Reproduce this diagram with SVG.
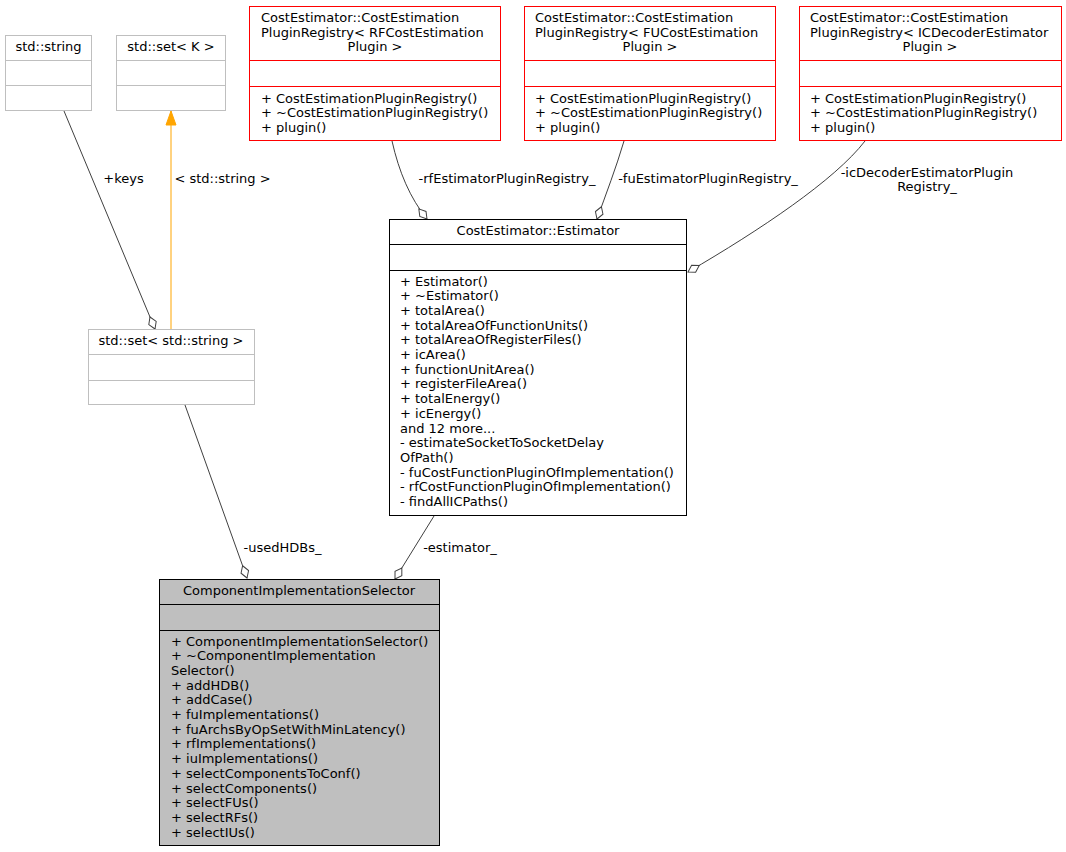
<svg xmlns="http://www.w3.org/2000/svg" width="1066" height="852" viewBox="0 0 1066 852">
<style>
text{font-family:"DejaVu Sans","Liberation Sans",sans-serif;font-size:13px;fill:#000}
.m{text-anchor:middle}
.gray rect,.gray line{stroke:#bfbfbf;fill:#fff}
.red rect,.red line{stroke:#ff0000;fill:#fff}
.blk rect,.blk line{stroke:#000;fill:#fff}
.sel rect{stroke:#000;fill:#bfbfbf}
.sel line{stroke:#000}
.e{fill:none;stroke:#404040;stroke-width:1}
.o{fill:none;stroke:#ffa500;stroke-width:1}
</style>
<defs>
<marker id="dia" viewBox="-14 -6 15 12" refX="0" refY="0" markerWidth="15" markerHeight="12" markerUnits="userSpaceOnUse" orient="auto">
<path d="M0,0 L-6.5,-4 L-13,0 L-6.5,4 Z" fill="#fff" stroke="#404040" stroke-width="1"/>
</marker>
<marker id="tri" viewBox="-15 -6 16 12" refX="0" refY="0" markerWidth="16" markerHeight="12" markerUnits="userSpaceOnUse" orient="auto">
<path d="M0,0 L-14,-5 L-14,5 Z" fill="#ffa500" stroke="#ffa500" stroke-width="1"/>
</marker>
</defs>
<rect width="1066" height="852" fill="#fff"/>
<g id="connectors">
<path class="e" d="M64,111 L155,329" marker-end="url(#dia)"/>
<text class="m" x="123.5" y="182.5">+keys</text>
<path class="o" d="M171,329 L171,111" marker-end="url(#tri)"/>
<text class="m" x="222.5" y="182.5">&lt; std::string &gt;</text>
<path class="e" d="M392,141 C399,172 410,198 427,219" marker-end="url(#dia)"/>
<text class="m" x="507" y="182.5">-rfEstimatorPluginRegistry_</text>
<path class="e" d="M624,141 C616,168 606,194 597,219" marker-end="url(#dia)"/>
<text class="m" x="708" y="182.5">-fuEstimatorPluginRegistry_</text>
<path class="e" d="M865,141 C835,180 760,230 688,272" marker-end="url(#dia)"/>
<text class="m" x="927" y="176.5">-icDecoderEstimatorPlugin</text>
<text class="m" x="927" y="191">Registry_</text>
<path class="e" d="M185,405 L247,578" marker-end="url(#dia)"/>
<text class="m" x="282.5" y="551.5">-usedHDBs_</text>
<path class="e" d="M434,516 L395,579" marker-end="url(#dia)"/>
<text class="m" x="460" y="551.5">-estimator_</text>
</g>
<g id="std_string" class="gray">
<rect x="5.5" y="35.5" width="86" height="75"/>
<line x1="5.5" y1="60.5" x2="91.5" y2="60.5"/>
<line x1="5.5" y1="85.5" x2="91.5" y2="85.5"/>
<text class="m" x="48.5" y="50.5">std::string</text>
</g>
<g id="std_set_K" class="gray">
<rect x="116.5" y="35.5" width="109" height="75"/>
<line x1="116.5" y1="60.5" x2="225.5" y2="60.5"/>
<line x1="116.5" y1="85.5" x2="225.5" y2="85.5"/>
<text class="m" x="171" y="50.5">std::set&lt; K &gt;</text>
</g>
<g id="rf_registry" class="red">
<rect x="249.5" y="6.5" width="251" height="134"/>
<line x1="249.5" y1="60.5" x2="500.5" y2="60.5"/>
<line x1="249.5" y1="86.5" x2="500.5" y2="86.5"/>
<text x="261" y="22">CostEstimator::CostEstimation</text>
<text x="261" y="36.7">PluginRegistry&lt; RFCostEstimation</text>
<text class="m" x="375" y="51.4">Plugin &gt;</text>
<text x="261" y="102.5">+ CostEstimationPluginRegistry()</text>
<text x="261" y="117">+ ~CostEstimationPluginRegistry()</text>
<text x="261" y="131.5">+ plugin()</text>
</g>
<g id="fu_registry" class="red">
<rect x="524.5" y="6.5" width="251" height="134"/>
<line x1="524.5" y1="60.5" x2="775.5" y2="60.5"/>
<line x1="524.5" y1="86.5" x2="775.5" y2="86.5"/>
<text x="535" y="22">CostEstimator::CostEstimation</text>
<text x="535" y="36.7">PluginRegistry&lt; FUCostEstimation</text>
<text class="m" x="650" y="51.4">Plugin &gt;</text>
<text x="535" y="102.5">+ CostEstimationPluginRegistry()</text>
<text x="535" y="117">+ ~CostEstimationPluginRegistry()</text>
<text x="535" y="131.5">+ plugin()</text>
</g>
<g id="ic_registry" class="red">
<rect x="799.5" y="6.5" width="262" height="134"/>
<line x1="799.5" y1="60.5" x2="1061.5" y2="60.5"/>
<line x1="799.5" y1="86.5" x2="1061.5" y2="86.5"/>
<text x="810" y="22">CostEstimator::CostEstimation</text>
<text x="810" y="36.7">PluginRegistry&lt; ICDecoderEstimator</text>
<text class="m" x="930" y="51.4">Plugin &gt;</text>
<text x="810" y="102.5">+ CostEstimationPluginRegistry()</text>
<text x="810" y="117">+ ~CostEstimationPluginRegistry()</text>
<text x="810" y="131.5">+ plugin()</text>
</g>
<g id="estimator" class="blk">
<rect x="389.5" y="219.5" width="297" height="296"/>
<line x1="389.5" y1="244.5" x2="686.5" y2="244.5"/>
<line x1="389.5" y1="270.5" x2="686.5" y2="270.5"/>
<text class="m" x="538" y="235">CostEstimator::Estimator</text>
<text x="400" y="285.5">+ Estimator()</text>
<text x="400" y="300.2">+ ~Estimator()</text>
<text x="400" y="314.9">+ totalArea()</text>
<text x="400" y="329.6">+ totalAreaOfFunctionUnits()</text>
<text x="400" y="344.3">+ totalAreaOfRegisterFiles()</text>
<text x="400" y="359">+ icArea()</text>
<text x="400" y="373.7">+ functionUnitArea()</text>
<text x="400" y="388.4">+ registerFileArea()</text>
<text x="400" y="403.1">+ totalEnergy()</text>
<text x="400" y="417.8">+ icEnergy()</text>
<text x="400" y="432.5">and 12 more...</text>
<text x="400" y="447.2">- estimateSocketToSocketDelay</text>
<text x="400" y="461.9">OfPath()</text>
<text x="400" y="476.6">- fuCostFunctionPluginOfImplementation()</text>
<text x="400" y="491.3">- rfCostFunctionPluginOfImplementation()</text>
<text x="400" y="506">- findAllICPaths()</text>
</g>
<g id="std_set_string" class="gray">
<rect x="88.5" y="329.5" width="166" height="75"/>
<line x1="88.5" y1="354.5" x2="254.5" y2="354.5"/>
<line x1="88.5" y1="380.5" x2="254.5" y2="380.5"/>
<text class="m" x="171" y="345">std::set&lt; std::string &gt;</text>
</g>
<g id="component_implementation_selector" class="sel">
<rect x="159.5" y="579.5" width="280" height="266"/>
<line x1="159.5" y1="604.5" x2="439.5" y2="604.5"/>
<line x1="159.5" y1="630.5" x2="439.5" y2="630.5"/>
<text class="m" x="299" y="595">ComponentImplementationSelector</text>
<text x="171" y="645.5">+ ComponentImplementationSelector()</text>
<text x="171" y="660.2">+ ~ComponentImplementation</text>
<text x="171" y="674.9">Selector()</text>
<text x="171" y="689.6">+ addHDB()</text>
<text x="171" y="704.3">+ addCase()</text>
<text x="171" y="719">+ fuImplementations()</text>
<text x="171" y="733.7">+ fuArchsByOpSetWithMinLatency()</text>
<text x="171" y="748.4">+ rfImplementations()</text>
<text x="171" y="763.1">+ iuImplementations()</text>
<text x="171" y="777.8">+ selectComponentsToConf()</text>
<text x="171" y="792.5">+ selectComponents()</text>
<text x="171" y="807.2">+ selectFUs()</text>
<text x="171" y="821.9">+ selectRFs()</text>
<text x="171" y="836.6">+ selectIUs()</text>
</g>
</svg>
